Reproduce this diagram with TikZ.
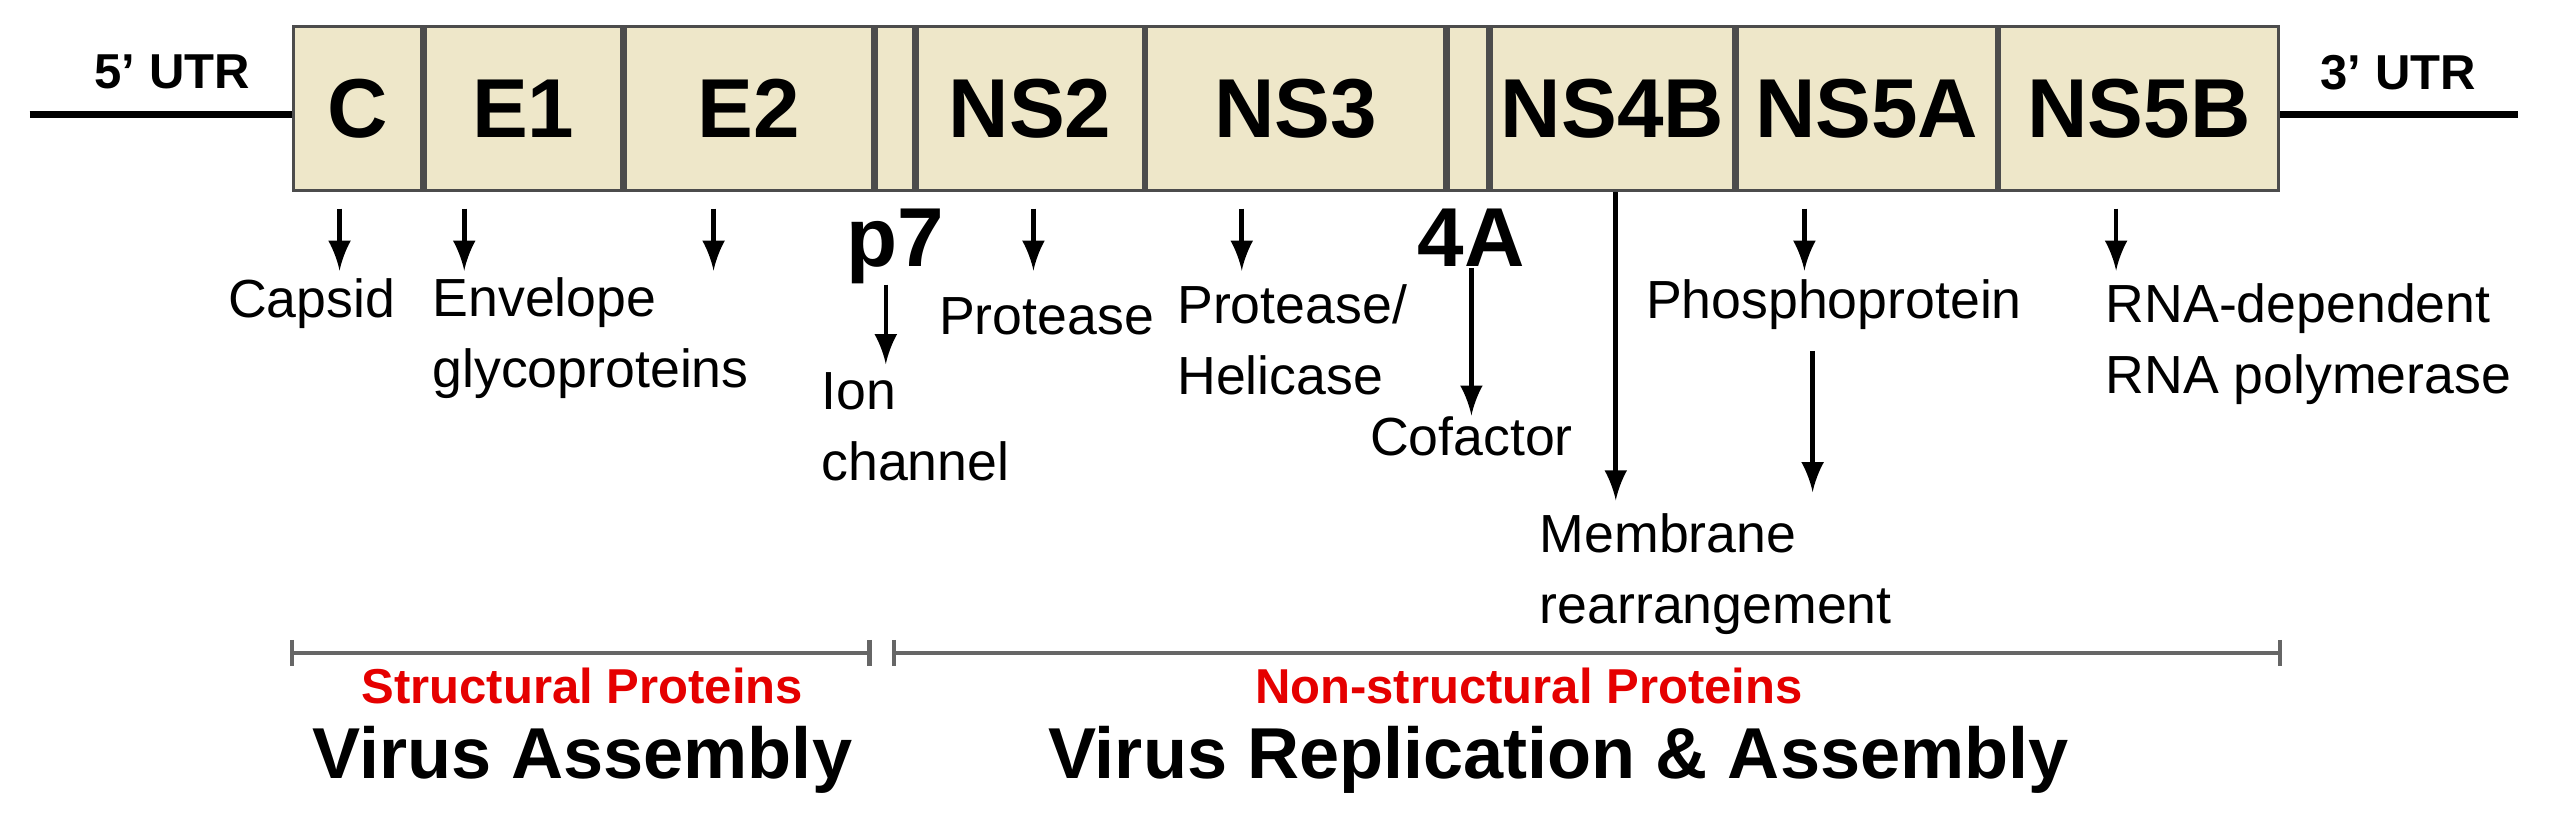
\documentclass[tikz,border=0pt]{standalone}
\usepackage{fontspec}
\setmainfont{Liberation Sans}
\begin{document}
\begin{tikzpicture}[x=0.01cm,y=-0.01cm,
  seg/.style={draw=black!70,fill=beige,line width=0.6pt},
  big/.style={font=\bfseries\fontsize{14.5}{17}\selectfont},
  lab/.style={font=\fontsize{9.3}{12.3}\selectfont,inner sep=0pt},
  utr/.style={font=\bfseries\fontsize{8.5}{10}\selectfont,inner sep=0pt},
  arr/.style={-latex,line width=0.8pt},
  brk/.style={draw=black!60,line width=0.8pt},
  red/.style={font=\bfseries\fontsize{8.5}{10}\selectfont,text=red!90!black,inner sep=0pt},
  vir/.style={font=\bfseries\fontsize{12.5}{15}\selectfont,inner sep=0pt}]
\definecolor{beige}{HTML}{EEE7C9}
\useasboundingbox (0,0) rectangle (1560,500);
\coordinate (l0) at (18,70); \coordinate (l1) at (178,70);
\coordinate (r0) at (1390,70); \coordinate (r1) at (1535,70);
\draw[line width=1.2pt] (l0) -- (l1); \draw[line width=1.2pt] (r0) -- (r1);
\node[utr] (u5) at (105,44) {5’ UTR};
\node[utr] (u3) at (1462,44) {3’ UTR};
\foreach \a/\b/\n/\t in {178/258/C/C,258/380/E1/E1,380/533/E2/E2,533/558/P7/,558/698/NS2/NS2,698/882/NS3/NS3,882/908/A4/,908/1058/NS4B/NS4B,1058/1218/NS5A/NS5A,1218/1390/NS5B/NS5B}
  \node[seg,big,minimum height=100*0.01cm,minimum width={(\b-\a)*0.01cm-0.6pt},inner sep=0pt,anchor=north west] (\n) at (\a,15) {\t};
\node[big,inner sep=0pt] (p7) at (546,150) {p7};
\node[big,inner sep=0pt] (a4) at (897,145) {4A};
\node[lab] (cap) at (190,185) {Capsid};
\node[lab,align=left,anchor=west] (env) at (263,206) {Envelope\\glycoproteins};
\node[lab,align=left,anchor=west] (ion) at (500,260) {Ion\\channel};
\node[lab] (pro) at (638,193) {Protease};
\node[lab,align=left,anchor=west] (hel) at (717,207) {Protease/\\Helicase};
\node[lab] (cof) at (897,266) {Cofactor};
\node[lab,align=left,anchor=west] (mem) at (938,350) {Membrane\\rearrangement};
\node[lab] (pho) at (1118,186) {Phosphoprotein};
\node[lab,align=left,anchor=west] (rna) at (1283,210) {RNA-dependent\\RNA polymerase};
\coordinate (m4) at (985,305); \coordinate (m5) at (1105,300);
\foreach \s/\x/\t in {C/207/cap,E1/283/env,E2/435/env,NS2/630/pro,NS3/757/hel,NS5A/1100/pho,NS5B/1290/rna}
  \draw[arr] (\s.south -| \x,0) ++(0,10) -- (\x,165);
\draw[arr] (p7.south -| 540,0) -- (540,222);
\draw[arr] (a4.south) -- (cof.north);
\draw[arr] (NS4B.south -| m4) -- (m4);
\draw[arr] (pho.south -| m5) ++(0,12) -- (m5);
\coordinate (b0) at (178,398); \coordinate (b1) at (530,398);
\coordinate (b2) at (545,398); \coordinate (b3) at (1390,398);
\draw[brk] (b0) -- (b1); \draw[brk] (b2) -- (b3);
\foreach \c in {b0,b1,b2,b3} \draw[brk] (\c) ++(0,-8) -- ++(0,16);
\node[red] (sp) at (355,418) {Structural Proteins};
\node[red] (np) at (932,418) {Non-structural Proteins};
\node[vir] (va) at (355,463) {Virus Assembly};
\node[vir] (vr) at (950,463) {Virus Replication \& Assembly};
\end{tikzpicture}
\end{document}
